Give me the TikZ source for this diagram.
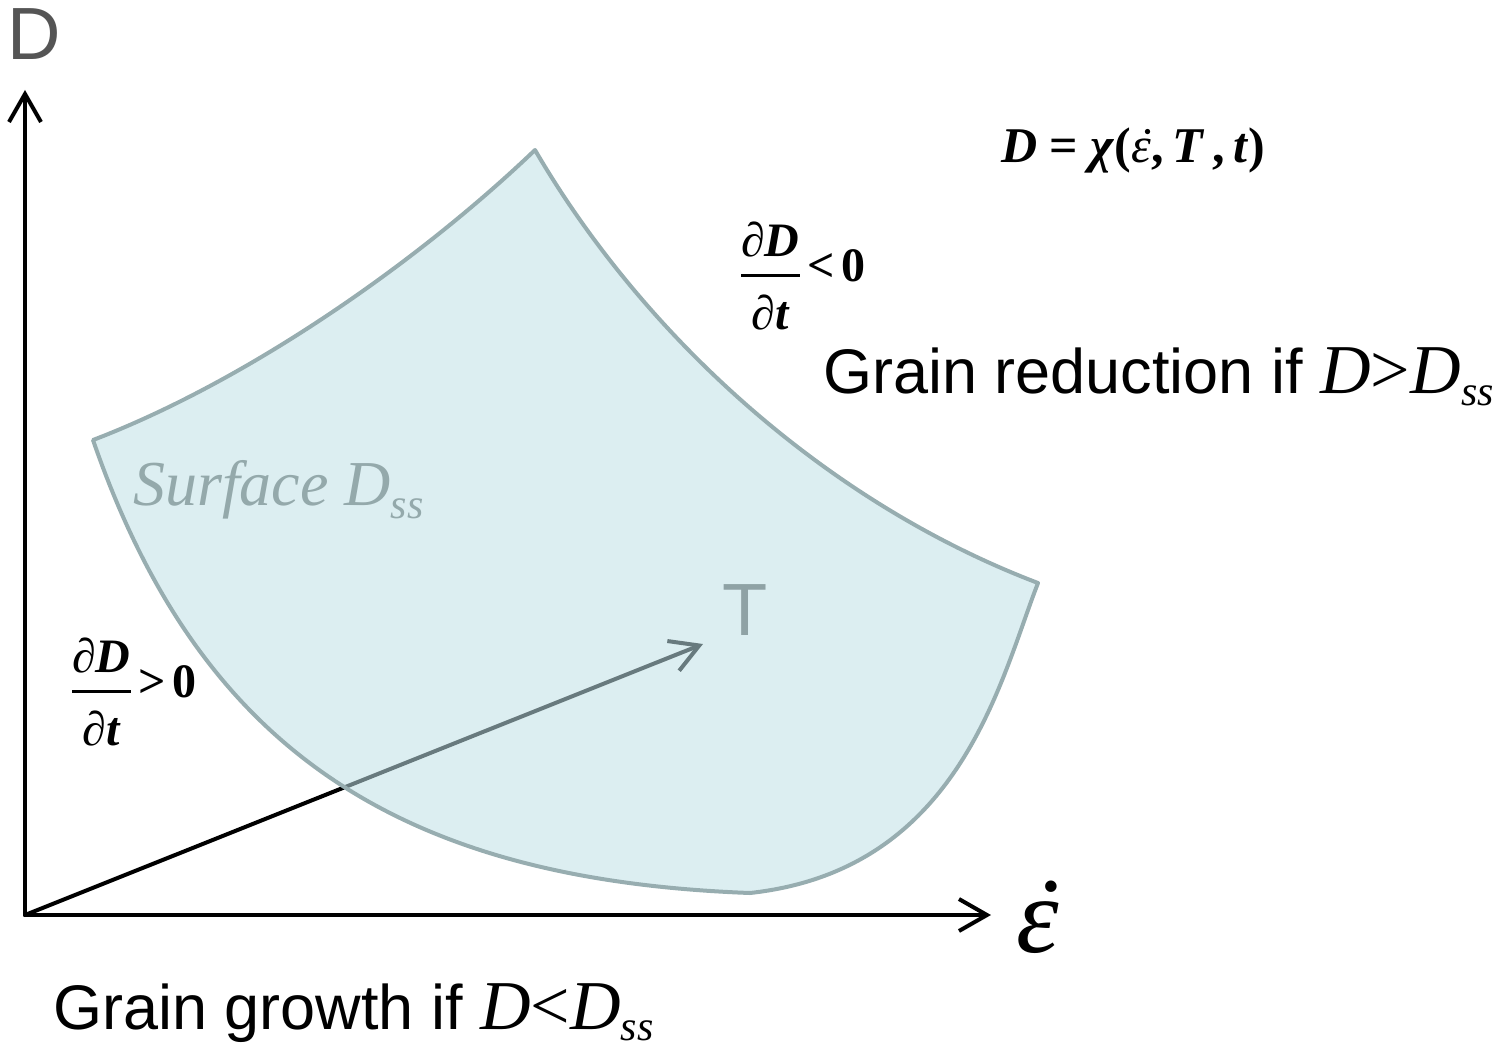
\documentclass[tikz,border=0pt]{standalone}
\usepackage{amsmath}
\usepackage{fontspec}
\setmainfont{Liberation Sans}
\newfontfamily\tnr{Liberation Serif}
\usetikzlibrary{arrows.meta}
\definecolor{surffill}{RGB}{191,224,230}
\definecolor{surfline}{RGB}{151,173,176}
\definecolor{surftext}{RGB}{148,169,171}
\definecolor{tgray}{RGB}{143,162,165}
\definecolor{dgray}{RGB}{85,85,85}
\newcommand\edot{\ooalign{ε\cr\hidewidth\kern0.12em˙\hidewidth\cr}}
\newcommand\pfrac[2]{\genfrac{}{}{2.8pt}{0}{\hbox{\rule[-9pt]{0pt}{0pt}\tnr ∂\bfseries\itshape #1}}{\hbox{\rule{0pt}{44pt}\tnr ∂\bfseries\itshape #2}}}
\tikzset{
  axis/.style={line width=4pt, line cap=round, -{Straight Barb[length=28pt,width=32pt,line width=4pt]}},
  surface/.style={draw=surfline, line width=4pt, line join=round},
  lbl/.style={inner sep=0pt, anchor=base west},
}
\begin{document}
\begin{tikzpicture}[x=1pt,y=-1pt]
\useasboundingbox (0,0) rectangle (1511,1048);
\coordinate (O) at (25,915);
\coordinate (Ytop) at (25,90);
\coordinate (Xend) at (991,915);
\coordinate (Tend) at (703,644);
\draw[axis] (O) -- (Ytop);
\draw[axis] (O) -- (Xend);
\draw[axis] (O) -- (Tend);
% surface
\coordinate (A) at (93,440);
\coordinate (B) at (535,150);
\coordinate (C) at (1038,583);
\coordinate (E) at (750,893);
\fill[surffill, fill opacity=0.55] (A) .. controls (250,380) and (420,260) .. (B)
  .. controls (640,330) and (820,500) .. (C)
  .. controls (1000,680) and (960,870) .. (E)
  .. controls (400,880) and (200,750) .. (A) -- cycle;
\draw[surface] (A) .. controls (250,380) and (420,260) .. (B)
  .. controls (640,330) and (820,500) .. (C)
  .. controls (1000,680) and (960,870) .. (E)
  .. controls (400,880) and (200,750) .. (A) -- cycle;
% labels
\node[lbl, text=dgray, font=\fontsize{74}{80}\selectfont] (Dlab) at (7,60) {D};
\node[lbl, font=\tnr\fontsize{50}{60}\selectfont] (form) at (1001,163)
  {\textbf{\textit{D}} \textbf{=} \textbf{\textit{χ}}\textbf{(}\textit{\edot}\textbf{,}\,\textbf{\textit{T}}\,\textbf{,}\,\textbf{\textit{t}}\textbf{)}};
\node[inner sep=0pt, font=\fontsize{48}{50}\selectfont] (fr1) at (803,276)
  {$\pfrac{D}{t}\mathrel{\hbox{\tnr\bfseries <}}\hbox{\tnr\bfseries 0}$};
\node[inner sep=0pt, font=\fontsize{48}{50}\selectfont] (fr2) at (134,692)
  {$\pfrac{D}{t}\mathrel{\hbox{\tnr\bfseries >}}\hbox{\tnr\bfseries 0}$};
\node[lbl, font=\fontsize{63}{70}\selectfont] (red) at (823,393)
  {Grain reduction if {\tnr\itshape\fontsize{70}{70}\selectfont D\upshape>\itshape D\raisebox{-12pt}{\fontsize{42}{42}\selectfont ss}}};
\node[lbl, font=\fontsize{63}{70}\selectfont] (gro) at (53,1029)
  {Grain growth if {\tnr\itshape\fontsize{70}{70}\selectfont D\upshape<\itshape D\raisebox{-11pt}{\fontsize{42}{42}\selectfont ss}}};
\node[lbl, text=surftext, font=\tnr\itshape\fontsize{64}{70}\selectfont] (surf) at (133,505)
  {Surface D\raisebox{-13pt}{\fontsize{42}{42}\selectfont ss}};
\node[lbl, text=tgray, font=\fontsize{74}{80}\selectfont] (Tlab) at (722,635) {T};
\node[lbl, font=\tnr\itshape\fontsize{108}{110}\selectfont] (eps) at (1016,952) {\edot};
\end{tikzpicture}
\end{document}
